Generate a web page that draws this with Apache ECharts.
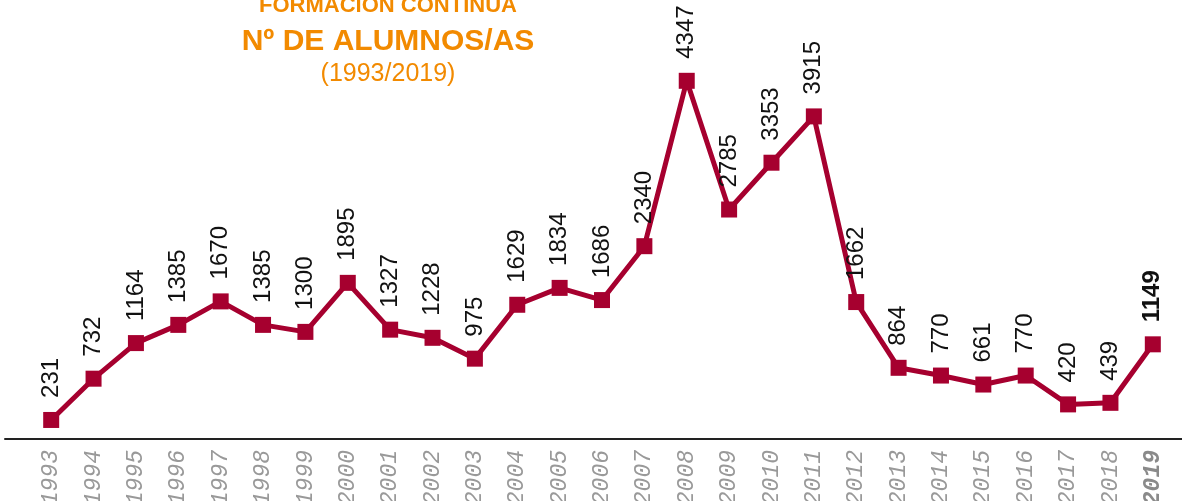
<!DOCTYPE html>
<html>
<head>
<meta charset="utf-8">
<script src="https://cdn.jsdelivr.net/npm/echarts@6/dist/echarts.min.js"></script>
<style>
  html, body { margin: 0; padding: 0; background: #fff; }
  #main { width: 1182px; height: 501px; }
</style>
</head>
<body>
<div id="main"></div>
<script>
  // datos: alumnos de formación continua por año
  var years = ['1993', '1994', '1995', '1996', '1997', '1998', '1999', '2000', '2001', '2002',
    '2003', '2004', '2005', '2006', '2007', '2008', '2009', '2010', '2011', '2012',
    '2013', '2014', '2015', '2016', '2017', '2018', '2019'];
  var alumnos = [231, 732, 1164, 1385, 1670, 1385, 1300, 1895, 1327, 1228,
    975, 1629, 1834, 1686, 2340, 4347, 2785, 3353, 3915, 1662,
    864, 770, 661, 770, 420, 439, 1149];

  var lineColor = '#a6002f';
  var orange = '#f28a00';
  var last = years.length - 1;

  var seriesData = alumnos.map(function (v, i) {
    if (i === last) {
      return { value: v, label: { fontWeight: 'bold', color: '#111' } };
    }
    return v;
  });

  var myChart = echarts.init(document.getElementById('main'), null, { renderer: 'canvas' });

  var option = {
    animation: false,
    title: [
      {
        text: 'FORMACIÓN CONTINUA',
        left: 383, top: -10, textAlign: 'center',
        textStyle: { color: orange, fontSize: 22, fontWeight: 'bold', fontFamily: 'Liberation Sans' }
      },
      {
        text: 'Nº DE ALUMNOS/AS',
        left: 383, top: 22, textAlign: 'center',
        textStyle: { color: orange, fontSize: 30, fontWeight: 'bold', fontFamily: 'Liberation Sans' }
      },
      {
        text: '(1993/2019)',
        left: 383, top: 57, textAlign: 'center',
        textStyle: { color: orange, fontSize: 25, fontWeight: 'normal', fontFamily: 'Liberation Sans' }
      }
    ],
    grid: [
      { left: 30, right: 8, top: 27, bottom: 62, outerBoundsMode: 'none' },
      { left: 5, right: 0, top: 27, bottom: 62, outerBoundsMode: 'none' }
    ],
    xAxis: [
      {
        type: 'category',
        gridIndex: 0,
        data: years,
        boundaryGap: true,
        axisLine: { show: false },
        axisTick: { show: false },
        axisLabel: {
          rotate: 90,
          margin: 11,
          interval: 0,
          color: '#999',
          fontSize: 23,
          fontStyle: 'italic',
          fontFamily: 'Liberation Mono',
          formatter: function (val, idx) {
            return idx === last ? '{b|' + val + '}' : val;
          },
          rich: {
            b: { fontWeight: 'bold', color: '#8a8a8a', fontSize: 23, fontStyle: 'italic', fontFamily: 'Liberation Mono' }
          }
        }
      },
      {
        // solo la línea base a todo lo ancho
        type: 'value',
        gridIndex: 1,
        axisLine: { show: true, onZero: false, lineStyle: { color: '#222', width: 2 } },
        axisTick: { show: false },
        axisLabel: { show: false },
        splitLine: { show: false }
      }
    ],
    yAxis: [
      { type: 'value', gridIndex: 0, min: 0, max: 5000, show: false },
      { type: 'value', gridIndex: 1, show: false }
    ],
    series: [
      {
        name: 'Alumnos',
        type: 'line',
        xAxisIndex: 0,
        yAxisIndex: 0,
        data: seriesData,
        symbol: 'rect',
        symbolSize: 16,
        lineStyle: { color: lineColor, width: 5 },
        itemStyle: { color: lineColor },
        label: {
          show: true,
          position: 'top',
          distance: 14,
          rotate: 90,
          align: 'left',
          verticalAlign: 'middle',
          color: '#111',
          fontSize: 24,
          fontFamily: 'Liberation Sans'
        }
      }
    ]
  };

  myChart.setOption(option);
  window.addEventListener('resize', function () { myChart.resize(); });
</script>
</body>
</html>
